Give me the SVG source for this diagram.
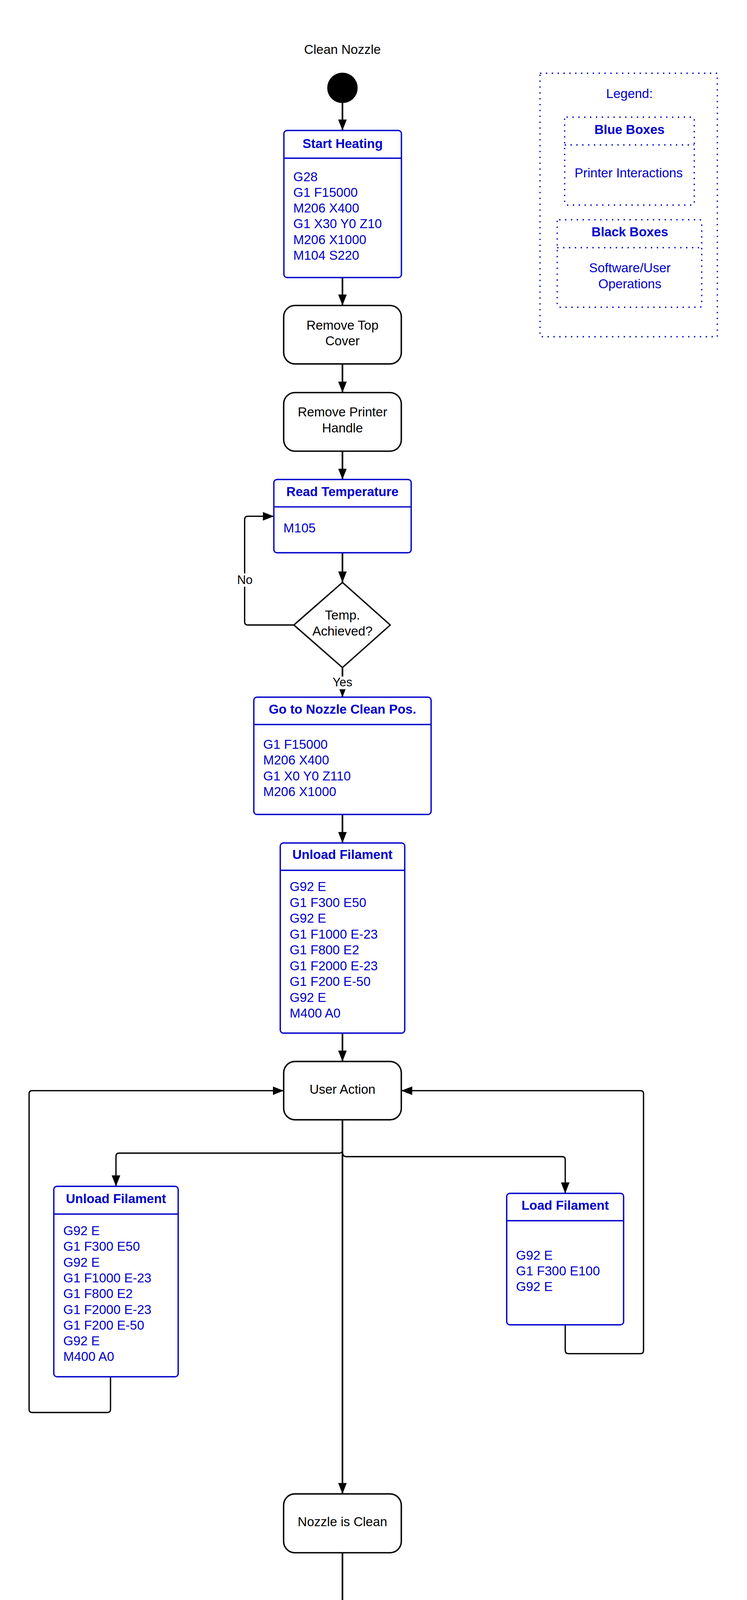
<svg xmlns="http://www.w3.org/2000/svg" width="1913" height="5288" viewBox="0 0 1913 5288">
<style>
  .t { font-family: "Liberation Sans", Arial, sans-serif; font-size: 33px; }
  .title { font-weight: bold; fill: #0000cc; text-anchor: middle; }
  .code { fill: #0000cc; }
  .lbl { fill: #000; text-anchor: middle; }
  .leg { fill: #0000cc; text-anchor: middle; }
  .bbox { fill: #fff; stroke: #0000cc; stroke-width: 3.4; }
  .div { stroke: #0000cc; stroke-width: 3.4; }
  .kbox { fill: #fff; stroke: #000; stroke-width: 3.6; }
  .conn { fill: none; stroke: #000; stroke-width: 4.2; }
  .thin { stroke-width: 3.3; stroke-linejoin: round; }
  .dot { fill: none; stroke: #0000cc; stroke-width: 3.3; stroke-dasharray: 3.3 11.7; }
</style>
<defs>
  <marker id="arr" viewBox="0 0 28 22" refX="28" refY="11" markerWidth="28" markerHeight="22" markerUnits="userSpaceOnUse" orient="auto">
    <path d="M0,0 L28,11 L0,22 z" fill="#000"/>
  </marker>
</defs>
<rect width="1913" height="5288" fill="#fff"/>

<g id="connectors">
  <line class="conn" x1="877" y1="264" x2="877" y2="334" marker-end="url(#arr)"/>
  <line class="conn" x1="877" y1="710.5" x2="877" y2="782" marker-end="url(#arr)"/>
  <line class="conn" x1="877" y1="931.6" x2="877" y2="1005" marker-end="url(#arr)"/>
  <line class="conn" x1="877" y1="1155" x2="877" y2="1227.5" marker-end="url(#arr)"/>
  <line class="conn" x1="877" y1="1415" x2="877" y2="1491" marker-end="url(#arr)"/>
  <line class="conn" x1="877" y1="1709" x2="877" y2="1784.8" marker-end="url(#arr)"/>
  <path class="conn thin" d="M752.6,1600 L634.5,1600 Q626.5,1600 626.5,1592 L626.5,1329.7 Q626.5,1321.7 634.5,1321.7 L701.3,1321.7" marker-end="url(#arr)"/>
  <line class="conn" x1="877" y1="2085" x2="877" y2="2158" marker-end="url(#arr)"/>
  <line class="conn" x1="877" y1="2644.7" x2="877" y2="2717.4" marker-end="url(#arr)"/>
  <line class="conn" x1="877" y1="2866.6" x2="877" y2="3824.4" marker-end="url(#arr)"/>
  <path class="conn thin" d="M877,2930 L877,2944 Q877,2952 869,2952 L305,2952 Q297,2952 297,2960 L297,3037" marker-end="url(#arr)"/>
  <path class="conn thin" d="M877,2948 Q877,2961 887,2961 L1439.5,2961 Q1447.5,2961 1447.5,2969 L1447.5,3055" marker-end="url(#arr)"/>
  <path class="conn thin" d="M1447.5,3391.5 L1447.5,3457 Q1447.5,3465.4 1456,3465.4 L1640,3465.4 Q1648,3465.4 1648,3457 L1648,2800 Q1648,2792.2 1640,2792.2 L1027.7,2792.2" marker-end="url(#arr)"/>
  <path class="conn thin" d="M283,3524.5 L283,3608 Q283,3616 275,3616 L82.5,3616 Q74.5,3616 74.5,3608 L74.5,2800 Q74.5,2792.2 82.5,2792.2 L726.5,2792.2" marker-end="url(#arr)"/>
  <line class="conn" x1="877" y1="3975" x2="877" y2="4274.6" marker-end="url(#arr)"/>
  <line class="conn" x1="877" y1="4424.6" x2="877" y2="4499" marker-end="url(#arr)"/>
  <line class="conn" x1="877" y1="4687.5" x2="877" y2="4763" marker-end="url(#arr)"/>
  <line class="conn" x1="877" y1="4949.7" x2="877" y2="5023" marker-end="url(#arr)"/>
  <rect x="600" y="1468" width="54" height="34" fill="#fff"/>
  <text class="t lbl" x="627" y="1494.7" style="font-size:31px">No</text>
  <rect x="848" y="1732" width="58" height="32.5" fill="#fff"/>
  <text class="t lbl" x="877" y="1756.8" style="font-size:31px">Yes</text>
</g>

<g id="title">
  <text class="t lbl" x="877" y="138">Clean Nozzle</text>
</g>

<g id="start">
  <circle cx="877" cy="225" r="39" fill="#000"/>
</g>

<g id="start-heating">
  <rect class="bbox" x="727" y="334" width="301" height="376.5" rx="8"/>
  <line class="div" x1="727" y1="405" x2="1028" y2="405"/>
  <text class="t title" x="877.5" y="379">Start Heating</text>
  <text class="t code" x="751" y="463.5">G28</text>
  <text class="t code" x="751" y="503.8">G1 F15000</text>
  <text class="t code" x="751" y="544.1">M206 X400</text>
  <text class="t code" x="751" y="584.4">G1 X30 Y0 Z10</text>
  <text class="t code" x="751" y="624.7">M206 X1000</text>
  <text class="t code" x="751" y="665">M104 S220</text>
</g>

<g id="remove-top-cover">
  <rect class="kbox" x="726.5" y="782" width="301.2" height="149.6" rx="29"/>
  <text class="t lbl" x="877" y="843.6">Remove Top</text>
  <text class="t lbl" x="877" y="883.8">Cover</text>
</g>

<g id="remove-printer-handle">
  <rect class="kbox" x="726.5" y="1005" width="301.2" height="150" rx="29"/>
  <text class="t lbl" x="877" y="1066.4">Remove Printer</text>
  <text class="t lbl" x="877" y="1107.3">Handle</text>
</g>

<g id="read-temperature">
  <rect class="bbox" x="701.3" y="1227.5" width="351.7" height="187.5" rx="8"/>
  <line class="div" x1="701.3" y1="1297.6" x2="1053" y2="1297.6"/>
  <text class="t title" x="877" y="1269.7">Read Temperature</text>
  <text class="t code" x="725.8" y="1363.4">M105</text>
</g>

<g id="temp-achieved">
  <path d="M877,1491 L999.4,1600 L877,1709 L752.6,1600 Z" fill="#fff" stroke="#000" stroke-width="3.6" stroke-linejoin="round"/>
  <text class="t lbl" x="877" y="1585.8">Temp.</text>
  <text class="t lbl" x="877" y="1626.7">Achieved?</text>
</g>

<g id="go-to-nozzle-clean-pos">
  <rect class="bbox" x="650" y="1784.8" width="454" height="300.2" rx="8"/>
  <line class="div" x1="650" y1="1854.8" x2="1104" y2="1854.8"/>
  <text class="t title" x="877" y="1826.9">Go to Nozzle Clean Pos.</text>
  <text class="t code" x="674" y="1917">G1 F15000</text>
  <text class="t code" x="674" y="1957.3">M206 X400</text>
  <text class="t code" x="674" y="1997.6">G1 X0 Y0 Z110</text>
  <text class="t code" x="674" y="2037.9">M206 X1000</text>
</g>

<g id="unload-filament">
  <rect class="bbox" x="717.7" y="2158" width="318.8" height="486.7" rx="8"/>
  <line class="div" x1="717.7" y1="2228" x2="1036.5" y2="2228"/>
  <text class="t title" x="877" y="2199">Unload Filament</text>
  <text class="t code" x="741.8" y="2281.3">G92 E</text>
  <text class="t code" x="741.8" y="2321.8">G1 F300 E50</text>
  <text class="t code" x="741.8" y="2362.3">G92 E</text>
  <text class="t code" x="741.8" y="2402.8">G1 F1000 E-23</text>
  <text class="t code" x="741.8" y="2443.3">G1 F800 E2</text>
  <text class="t code" x="741.8" y="2483.8">G1 F2000 E-23</text>
  <text class="t code" x="741.8" y="2524.3">G1 F200 E-50</text>
  <text class="t code" x="741.8" y="2564.8">G92 E</text>
  <text class="t code" x="741.8" y="2605.3">M400 A0</text>
</g>

<g id="user-action">
  <rect class="kbox" x="726.5" y="2717.4" width="301.2" height="149.2" rx="29"/>
  <text class="t lbl" x="877" y="2799.5">User Action</text>
</g>

<g id="unload-filament-2">
  <rect class="bbox" x="137.8" y="3037" width="318.5" height="487.5" rx="8"/>
  <line class="div" x1="137.8" y1="3108" x2="456.3" y2="3108"/>
  <text class="t title" x="297" y="3080">Unload Filament</text>
  <text class="t code" x="162" y="3162">G92 E</text>
  <text class="t code" x="162" y="3202.3">G1 F300 E50</text>
  <text class="t code" x="162" y="3242.6">G92 E</text>
  <text class="t code" x="162" y="3282.9">G1 F1000 E-23</text>
  <text class="t code" x="162" y="3323.2">G1 F800 E2</text>
  <text class="t code" x="162" y="3363.5">G1 F2000 E-23</text>
  <text class="t code" x="162" y="3403.8">G1 F200 E-50</text>
  <text class="t code" x="162" y="3444.1">G92 E</text>
  <text class="t code" x="162" y="3484.4">M400 A0</text>
</g>

<g id="load-filament">
  <rect class="bbox" x="1297.6" y="3055" width="299.4" height="336.5" rx="8"/>
  <line class="div" x1="1297.6" y1="3125" x2="1597" y2="3125"/>
  <text class="t title" x="1447.3" y="3097">Load Filament</text>
  <text class="t code" x="1321.6" y="3224.7">G92 E</text>
  <text class="t code" x="1321.6" y="3265">G1 F300 E100</text>
  <text class="t code" x="1321.6" y="3305.3">G92 E</text>
</g>

<g id="nozzle-is-clean">
  <rect class="kbox" x="726.3" y="3824.4" width="301.4" height="150.6" rx="29"/>
  <text class="t lbl" x="877" y="3906.5">Nozzle is Clean</text>
</g>

<g id="choose-color">
  <rect class="kbox" x="726.3" y="4274.6" width="301.4" height="150" rx="29"/>
  <text class="t lbl" x="877" y="4356">Choose Color</text>
</g>

<g id="set-color-code">
  <rect class="bbox" x="710.2" y="4499" width="333.8" height="188.5" rx="8"/>
  <line class="div" x1="710.2" y1="4571" x2="1044" y2="4571"/>
  <text class="t title" x="877" y="4541">Set Color Code</text>
  <text class="t code" x="734" y="4635.3">M400 Accc</text>
</g>

<g id="cancel-heating">
  <rect class="bbox" x="708.3" y="4763" width="337.5" height="186.7" rx="8"/>
  <line class="div" x1="708.3" y1="4834.5" x2="1045.8" y2="4834.5"/>
  <text class="t title" x="877" y="4803.8">Cancel Heating</text>
  <text class="t code" x="732" y="4898">M104 S0</text>
</g>

<g id="end">
  <circle cx="877" cy="5062.5" r="37" fill="#fff" stroke="#000" stroke-width="3.6"/>
  <circle cx="877" cy="5062.5" r="24" fill="#000"/>
  <text class="t lbl" x="878.5" y="5162">Nozzle Cleaning Finished</text>
</g>

<g id="legend">
  <rect class="dot" x="1383" y="187.5" width="454" height="674.5"/>
  <text class="t leg" x="1612" y="251">Legend:</text>
  <g id="legend-blue">
    <rect class="dot" x="1446" y="300" width="332" height="225" rx="5"/>
    <line class="dot" x1="1446" y1="371" x2="1778" y2="371"/>
    <text class="t leg" x="1612" y="343" font-weight="bold">Blue Boxes</text>
    <text class="t leg" x="1610" y="454">Printer Interactions</text>
  </g>
  <g id="legend-black">
    <rect class="dot" x="1427" y="562.5" width="370" height="224" rx="5"/>
    <line class="dot" x1="1427" y1="634" x2="1797" y2="634"/>
    <text class="t leg" x="1613" y="605" font-weight="bold">Black Boxes</text>
    <text class="t leg" x="1613" y="697">Software/User</text>
    <text class="t leg" x="1613" y="737.5">Operations</text>
  </g>
</g>
</svg>
